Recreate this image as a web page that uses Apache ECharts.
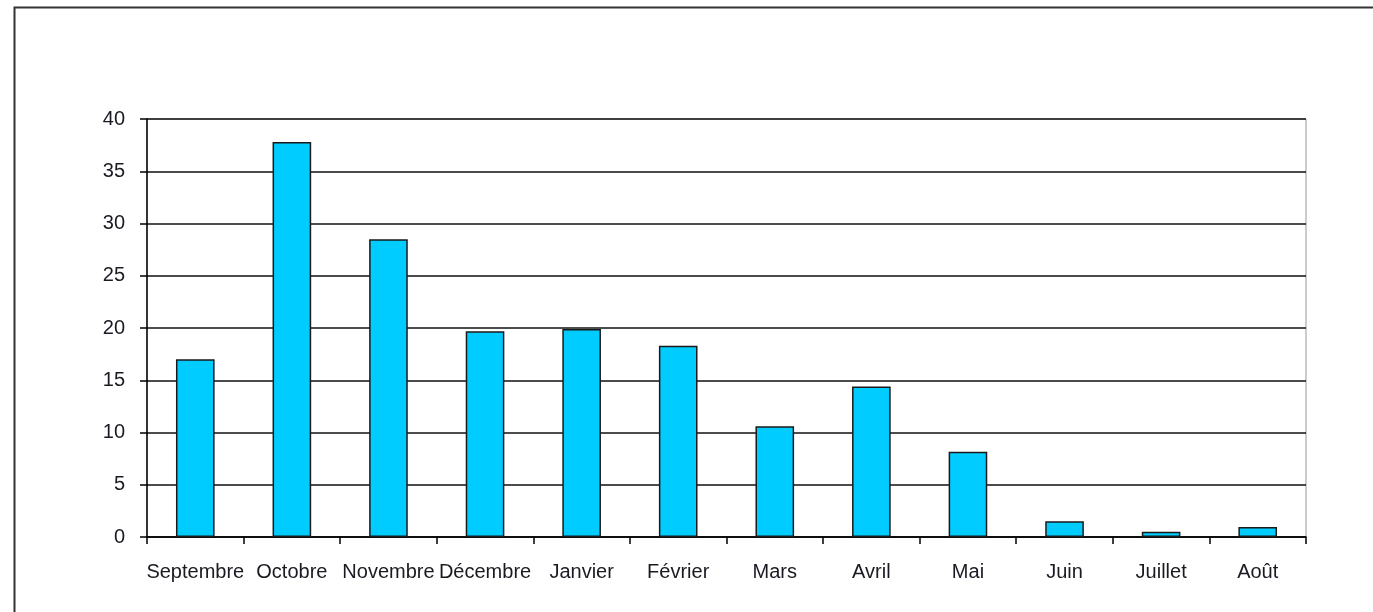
<!DOCTYPE html>
<html>
<head>
<meta charset="utf-8">
<script src="https://cdn.jsdelivr.net/npm/echarts@6/dist/echarts.min.js"></script>
<style>
    html, body {
        margin: 0;
        padding: 0;
        background: #fff;
    }
    #chart {
        width: 1373px;
        height: 612px;
    }
</style>
</head>
<body>
<div id="chart"></div>
<script>
// mois et valeurs
var months = ["Septembre", "Octobre", "Novembre", "Décembre", "Janvier", "Février",
    "Mars", "Avril", "Mai", "Juin", "Juillet", "Août"];
var values = [17.0, 37.8, 28.5, 19.7, 19.9, 18.3, 10.6, 14.4, 8.15, 1.5, 0.5, 0.95];
var yTicks = [0, 5, 10, 15, 20, 25, 30, 35, 40];

var mychart = echarts.init(document.getElementById("chart"));

var option = {
    animation: false,
    backgroundColor: "#fff",
    textStyle: {
        fontFamily: "Liberation Sans, Arial, sans-serif",
    },
    graphic: [
        {
            type: "rect",
            shape: { x: 14.5, y: 7.5, width: 1420, height: 700 },
            style: { fill: "none", stroke: "#333", lineWidth: 2 },
            silent: true,
        },
    ],
    grid: {
        left: 147,
        right: 67,
        top: 119,
        bottom: 75,
        show: true,
        borderColor: "#999",
        borderWidth: 1,
    },
    xAxis: {
        type: "category",
        data: months,
        boundaryGap: true,
        axisLine: { lineStyle: { color: "#000", width: 1.5 } },
        axisTick: { show: true, length: 7, lineStyle: { color: "#000", width: 1.5 } },
        axisLabel: {
            interval: 0,
            margin: 25,
            color: "#1a1a22",
            fontSize: 20,
        },
    },
    yAxis: {
        type: "value",
        min: yTicks[0],
        max: yTicks[yTicks.length - 1],
        interval: 5,
        axisLine: { show: true, lineStyle: { color: "#000", width: 1.5 } },
        axisTick: { show: true, length: 7, lineStyle: { color: "#000", width: 1.5 } },
        axisLabel: {
            margin: 22,
            color: "#1a1a22",
            fontSize: 20,
        },
        splitLine: { show: true, lineStyle: { color: "#111", width: 1.5 } },
    },
    series: [
        {
            type: "bar",
            data: values,
            barWidth: "40%",
            itemStyle: {
                color: "#00ccff",
                borderColor: "#1a1a1a",
                borderWidth: 1.5,
            },
        },
    ],
};

mychart.setOption(option);
</script>
</body>
</html>
